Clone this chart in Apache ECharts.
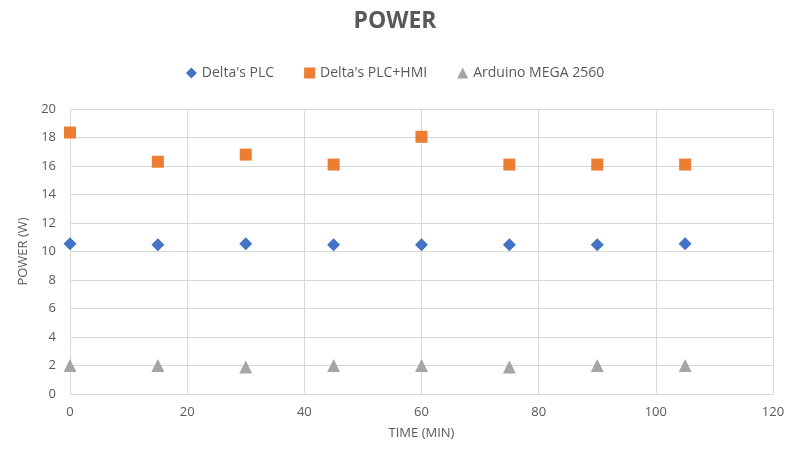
<!DOCTYPE html>
<html><head><meta charset="utf-8">
<script src="https://cdn.jsdelivr.net/npm/echarts@6/dist/echarts.min.js"></script>
<style>html,body{margin:0;padding:0;background:#fff}#c{width:790px;height:456px}</style>
</head><body><div id="c"></div>
<script>
const times = [0, 15, 30, 45, 60, 75, 90, 105];
const plc = [10.55, 10.48, 10.55, 10.48, 10.48, 10.48, 10.48, 10.55];
const plcHmi = [18.35, 16.3, 16.8, 16.1, 18.05, 16.1, 16.1, 16.1];
const arduino = [2.0, 2.0, 1.9, 2.0, 2.0, 1.9, 2.0, 2.0];
const seriesNames = ["Delta's PLC", "Delta's PLC+HMI", "Arduino MEGA 2560"];
const colors = ['#4472C4', '#ED7D31', '#A5A5A5'];
const font = 'Open Sans';
const chart = echarts.init(document.getElementById('c'));
const pair = arr => times.map((t, i) => [t, arr[i]]);
chart.setOption({
  animation: false,
  title: { text: 'POWER', left: 'center', top: 5,
    textStyle: { fontFamily: font, fontSize: 23, fontWeight: 'bold', color: '#595959' } },
  legend: { top: 61, left: 'center', itemWidth: 11, itemHeight: 11, itemGap: 30,
    textStyle: { fontFamily: font, fontSize: 14, color: '#595959' },
    data: [
      { name: seriesNames[0], icon: 'diamond' },
      { name: seriesNames[1], icon: 'rect' },
      { name: seriesNames[2], icon: 'triangle' }
    ] },
  grid: { left: 70, right: 17, top: 109, bottom: 62, containLabel: false },
  xAxis: { type: 'value', min: 0, max: 120, interval: 20,
    name: 'TIME (MIN)', nameLocation: 'middle', nameGap: 33,
    nameTextStyle: { fontFamily: font, fontSize: 13, color: '#595959' },
    axisLine: { show: true, lineStyle: { color: '#d9d9d9' } },
    axisTick: { show: false },
    axisLabel: { fontFamily: font, fontSize: 13, color: '#595959', margin: 12 },
    splitLine: { show: true, lineStyle: { color: '#d9d9d9' } } },
  yAxis: { type: 'value', min: 0, max: 20, interval: 2,
    name: 'POWER (W)', nameLocation: 'middle', nameGap: 40, nameRotate: 90,
    nameTextStyle: { fontFamily: font, fontSize: 13, color: '#595959' },
    axisLine: { show: false }, axisTick: { show: false },
    axisLabel: { fontFamily: font, fontSize: 13, color: '#595959', margin: 14 },
    splitLine: { show: true, lineStyle: { color: '#d9d9d9' } } },
  series: [
    { name: seriesNames[0], type: 'scatter', symbol: 'diamond', symbolSize: 13,
      itemStyle: { color: colors[0], opacity: 1 }, data: pair(plc) },
    { name: seriesNames[1], type: 'scatter', symbol: 'rect', symbolSize: 12,
      itemStyle: { color: colors[1], opacity: 1 }, data: pair(plcHmi) },
    { name: seriesNames[2], type: 'scatter', symbol: 'triangle', symbolSize: 13,
      itemStyle: { color: colors[2], opacity: 1 }, data: pair(arduino) }
  ]
});
</script></body></html>
